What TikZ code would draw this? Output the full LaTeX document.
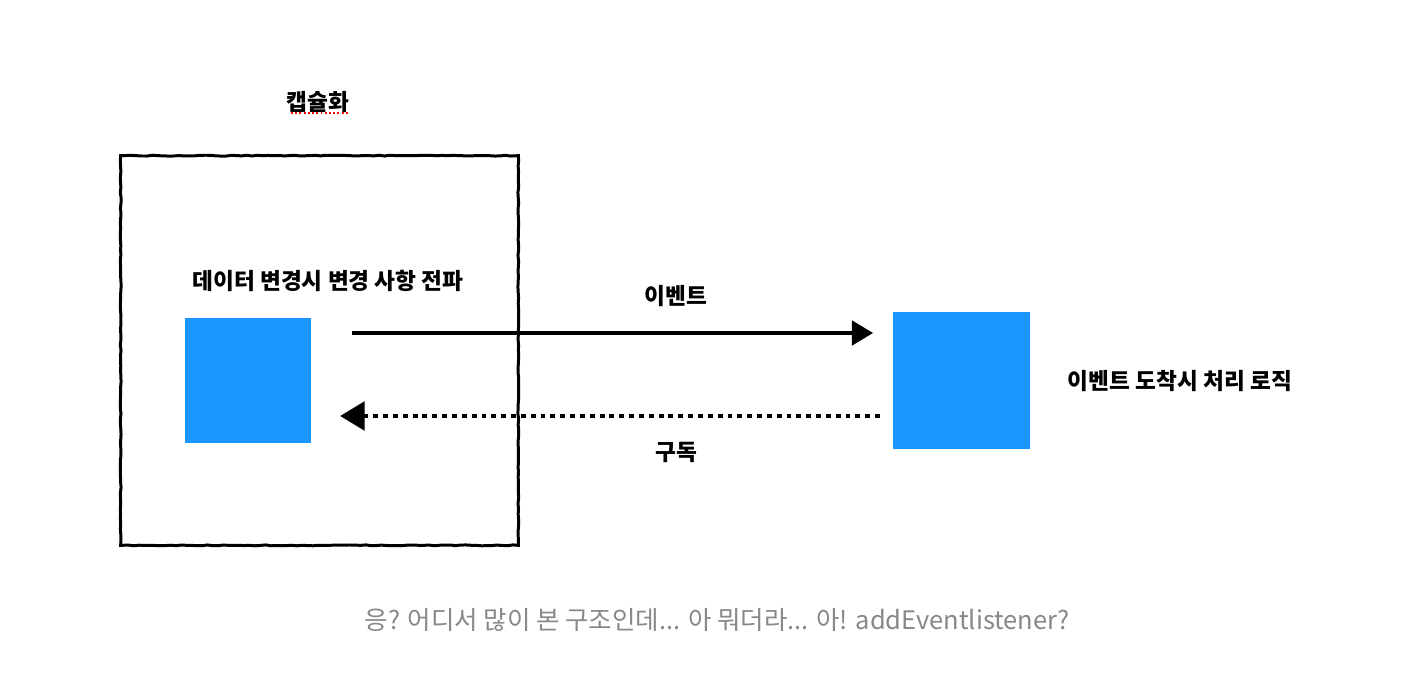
\documentclass[tikz,border=0pt]{standalone}
\usepackage{fontspec}
\setmainfont{Noto Sans CJK KR}
\usetikzlibrary{arrows.meta,decorations.pathmorphing}
\definecolor{boxblue}{RGB}{27,150,255}
\definecolor{capgray}{RGB}{136,136,136}
\tikzset{
  bluesq/.style={fill=boxblue, draw=none},
  lbl/.style={font=\bfseries\fontsize{12.9}{15}\selectfont, text=black, inner sep=0pt},
  sketch/.style={draw=black, line width=1.7pt, decorate, decoration={random steps, segment length=3pt, amplitude=0.25pt}},
}
\begin{document}
\begin{tikzpicture}[x=0.02cm,y=-0.02cm]
\path[fill=white] (0,0) rectangle (1414,692);
\useasboundingbox (0,0) rectangle (1414,692);
% encapsulation box
\node[draw=none, minimum width=397*0.02cm, minimum height=389*0.02cm, inner sep=0pt] (enc) at (319.5,350.5) {};
\draw[sketch] (enc.north west) -- (enc.north east) -- (enc.south east) -- (enc.south west) -- cycle;
% blue squares
\node[bluesq, minimum width=126*0.02cm, minimum height=125*0.02cm, inner sep=0pt] (ls) at (248,380.5) {};
\node[bluesq, minimum width=137*0.02cm, minimum height=137*0.02cm, inner sep=0pt] (rs) at (961.5,380.5) {};
% labels
\node[lbl] (t1) at (318,102) {캡슐화};
\draw[red, line width=1.1pt, dash pattern=on 1.1pt off 1.3pt] (291,113) -- (349,113);
\node[lbl] (t2) at (328,281) {데이터 변경시 변경 사항 전파};
\node[lbl] (t3) at (676,296) {이벤트};
\node[lbl] (t4) at (676,452) {구독};
\node[lbl] (t5) at (1180,381) {이벤트 도착시 처리 로직};
\node[font=\fontsize{14.5}{17}\selectfont, text=capgray, inner sep=0pt] (cap) at (717,620) {응? 어디서 많이 본 구조인데... 아 뭐더라... 아! addEventlistener?};
% arrows
\coordinate (a1s) at (352,333);
\coordinate (a1e) at (873,333);
\coordinate (a2s) at (880,416);
\coordinate (a2e) at (340,416);
\draw[line width=1.8pt, -{Triangle[length=12pt,width=14pt]}] (a1s) -- (a1e);
\draw[line width=2.8pt, dash pattern=on 2.8pt off 2.8pt, -{Triangle[length=14pt,width=16pt]}] (a2s) -- (a2e);
\end{tikzpicture}
\end{document}
